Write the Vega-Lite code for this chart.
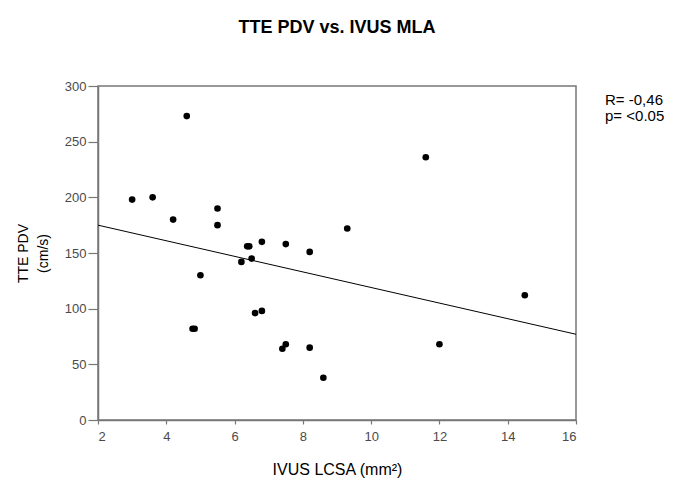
{
  "$schema": "https://vega.github.io/schema/vega-lite/v6.json",
  "width": 478,
  "height": 334,
  "autosize": "none",
  "padding": {"left": 98, "top": 86, "right": 109, "bottom": 79},
  "background": "white",
  "title": {
    "text": "TTE PDV vs. IVUS MLA",
    "font": "Liberation Sans",
    "fontSize": 18,
    "fontWeight": "bold",
    "color": "#000000",
    "anchor": "middle",
    "offset": 43
  },
  "config": {
    "view": {"stroke": "#777777", "strokeWidth": 1.5},
    "axis": {
      "labelFont": "Liberation Sans",
      "labelFontSize": 13,
      "labelColor": "#4a4a4a",
      "titleFont": "Liberation Sans",
      "titleFontWeight": "normal",
      "titleColor": "#000000",
      "domainColor": "#777777",
      "domainWidth": 1.5,
      "tickColor": "#777777",
      "tickWidth": 1.2,
      "grid": false
    }
  },
  "datasets": {
    "points": [
      {"lcsa": 3.0, "pdv": 198},
      {"lcsa": 3.6, "pdv": 200},
      {"lcsa": 4.2, "pdv": 180},
      {"lcsa": 4.6, "pdv": 273},
      {"lcsa": 4.77, "pdv": 82},
      {"lcsa": 4.83, "pdv": 82},
      {"lcsa": 5.0, "pdv": 130},
      {"lcsa": 5.5, "pdv": 190},
      {"lcsa": 5.5, "pdv": 175},
      {"lcsa": 6.2, "pdv": 142},
      {"lcsa": 6.37, "pdv": 156},
      {"lcsa": 6.43, "pdv": 156},
      {"lcsa": 6.5, "pdv": 145},
      {"lcsa": 6.8, "pdv": 160},
      {"lcsa": 6.6, "pdv": 96},
      {"lcsa": 6.8, "pdv": 98},
      {"lcsa": 7.4, "pdv": 64},
      {"lcsa": 7.5, "pdv": 68},
      {"lcsa": 7.5, "pdv": 158},
      {"lcsa": 8.2, "pdv": 151},
      {"lcsa": 8.2, "pdv": 65},
      {"lcsa": 8.6, "pdv": 38},
      {"lcsa": 9.3, "pdv": 172},
      {"lcsa": 11.6, "pdv": 236},
      {"lcsa": 12.0, "pdv": 68},
      {"lcsa": 14.5, "pdv": 112}
    ],
    "fit": [
      {"lcsa": 2, "pdv": 175},
      {"lcsa": 16, "pdv": 77}
    ],
    "stats": [
      {"lcsa": 16.85, "pdv": 283, "label": "R= -0,46"},
      {"lcsa": 16.85, "pdv": 268.5, "label": "p= <0.05"}
    ]
  },
  "layer": [
    {
      "data": {"name": "points"},
      "mark": {"type": "point", "filled": true, "color": "#000000", "opacity": 1, "size": 44, "shape": "circle"},
      "encoding": {
        "x": {
          "field": "lcsa", "type": "quantitative",
          "scale": {"domain": [2, 16], "nice": false, "zero": false},
          "axis": {"values": [2, 4, 6, 8, 10, 12, 14, 16], "title": "IVUS LCSA (mm²)", "titleFontSize": 16, "titlePadding": 18, "tickSize": 4, "labelPadding": 6}
        },
        "y": {
          "field": "pdv", "type": "quantitative",
          "scale": {"domain": [0, 300], "nice": false},
          "axis": {"values": [0, 50, 100, 150, 200, 250, 300], "title": ["TTE PDV", "(cm/s)"], "titleFontSize": 14, "titleLineHeight": 20, "titlePadding": 14, "tickSize": 10, "labelPadding": 2}
        }
      }
    },
    {
      "data": {"name": "fit"},
      "mark": {"type": "line", "color": "#000000", "strokeWidth": 1},
      "encoding": {
        "x": {"field": "lcsa", "type": "quantitative"},
        "y": {"field": "pdv", "type": "quantitative"}
      }
    },
    {
      "data": {"name": "stats"},
      "mark": {"type": "text", "align": "left", "baseline": "alphabetic", "font": "Liberation Sans", "fontSize": 15, "color": "#000000", "clip": false},
      "encoding": {
        "x": {"field": "lcsa", "type": "quantitative"},
        "y": {"field": "pdv", "type": "quantitative"},
        "text": {"field": "label"}
      }
    }
  ]
}
